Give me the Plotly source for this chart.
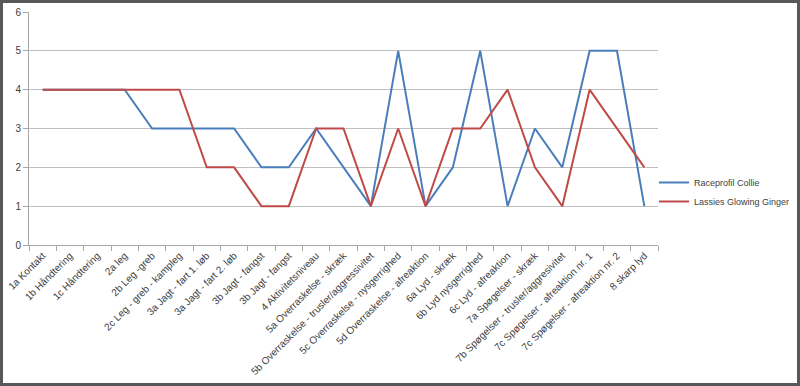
import plotly.graph_objects as go

categories = [
    "1a Kontakt", "1b Håndtering", "1c Håndtering", "2a leg", "2b Leg -greb",
    "2c Leg - greb - kampleg", "3a Jagt - fart 1. løb", "3a Jagt - fart 2. løb",
    "3b Jagt - fangst", "3b Jagt - fangst", "4 Aktivitetsniveau",
    "5a Overraskelse - skræk", "5b Overraskelse - trusler/aggressivitet",
    "5c Overraskelse - nysgerrighed", "5d Overraskelse - afreaktion",
    "6a Lyd - skræk", "6b Lyd nysgerrighed", "6c Lyd - afreaktion",
    "7a Spøgelser - skræk", "7b Spøgelser - trusler/aggresivitet",
    "7c Spøgelser - afreaktion nr. 1", "7c Spøgelser - afreaktion nr. 2",
    "8 skarp lyd",
]
raceprofil = [4, 4, 4, 4, 3, 3, 3, 3, 2, 2, 3, 2, 1, 5, 1, 2, 5, 1, 3, 2, 5, 5, 1]
lassies = [4, 4, 4, 4, 4, 4, 2, 2, 1, 1, 3, 3, 1, 3, 1, 3, 3, 4, 2, 1, 4, 3, 2]
series_names = ["Raceprofil Collie", "Lassies Glowing Ginger"]
y_ticks = [0, 1, 2, 3, 4, 5, 6]

idx = list(range(len(categories)))

fig = go.Figure()
fig.add_trace(go.Scatter(x=idx, y=raceprofil, mode="lines", name=series_names[0],
                         line=dict(color="#4a7ebb", width=2)))
fig.add_trace(go.Scatter(x=idx, y=lassies, mode="lines", name=series_names[1],
                         line=dict(color="#be4b48", width=2)))

L, R, T, B = 29, 142, 12, 141
W, H = 800, 386
pw, ph = W - L - R, H - T - B

fig.update_layout(
    width=W, height=H,
    margin=dict(l=L, r=R, t=T, b=B, autoexpand=False),
    paper_bgcolor="white", plot_bgcolor="white",
    font=dict(family="Liberation Sans", size=10, color="#404040"),
    showlegend=True,
    legend=dict(x=(654 - L) / pw, y=(245 - 192) / ph, xanchor="left", yanchor="middle",
                bgcolor="rgba(0,0,0,0)",
                font=dict(family="Liberation Sans", size=9, color="#404040"),
                tracegroupgap=6, itemwidth=30),
    xaxis=dict(
        range=[-0.5, len(categories) - 0.5], automargin=False,
        tickmode="array", tickvals=idx, ticktext=categories,
        tickangle=-45, ticks="", showgrid=False, zeroline=False,
        showline=True, linecolor="#a6a6a6", linewidth=1,
        tickfont=dict(size=10, color="#404040"),
        minor=dict(tickmode="linear", tick0=-0.5, dtick=1, ticks="outside",
                   ticklen=5, tickcolor="#a6a6a6", showgrid=False),
    ),
    yaxis=dict(
        range=[0, 6], tickvals=y_ticks, showgrid=True, gridcolor="#c0c0c0",
        gridwidth=1, zeroline=False, showline=True, linecolor="#a6a6a6",
        ticks="outside", ticklen=5, tickcolor="#a6a6a6", automargin=False,
        tickfont=dict(size=10, color="#404040"),
    ),
)

fig.add_shape(type="rect", xref="paper", yref="paper",
              x0=(1.5 - L) / pw, x1=(W - 1.5 - L) / pw,
              y0=-(B - 1.5) / ph, y1=(H - B - 1.5) / ph,
              line=dict(color="#595959", width=3), fillcolor="rgba(0,0,0,0)", layer="above")

fig.write_html("out.html", config={"displayModeBar": False},
               post_script="document.body.style.margin='0';document.body.style.overflow='hidden';")
